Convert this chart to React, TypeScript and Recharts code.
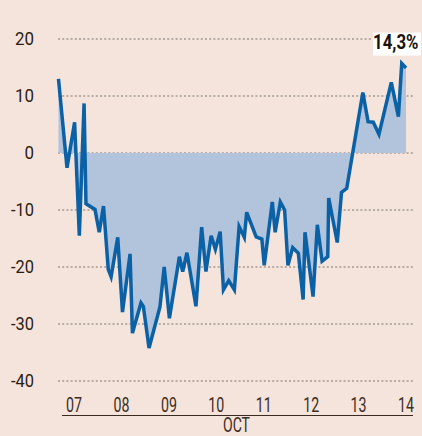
import { ComposedChart, Area, Line, XAxis, YAxis, CartesianGrid, ReferenceDot } from "recharts"

// position in days (07 = 7 Oct)
const days = [
  6.67, 6.85, 7.01, 7.11, 7.21, 7.25, 7.44, 7.53, 7.62, 7.72, 7.78, 7.92, 8.02, 8.18, 8.23, 8.41,
  8.46, 8.58, 8.81, 8.9, 9.01, 9.22, 9.29, 9.38, 9.57, 9.69, 9.78, 9.89, 9.98, 10.08, 10.15, 10.26,
  10.38, 10.48, 10.59, 10.64, 10.84, 10.96, 11.01, 11.18, 11.24, 11.35, 11.44, 11.51, 11.61, 11.73,
  11.83, 11.87, 12.04, 12.13, 12.23, 12.35, 12.37, 12.55, 12.64, 12.75, 13.09, 13.2, 13.31, 13.43,
  13.69, 13.84, 13.91, 14.0,
]

// % change
const changes = [
  13.0, -2.6, 5.4, -14.5, 8.7, -8.9, -9.9, -13.9, -9.3, -20.4, -21.7, -14.8, -27.9, -17.7, -31.6, -26.3,
  -26.9, -34.2, -27.0, -20.0, -29.0, -18.2, -20.8, -17.5, -26.9, -13.0, -20.8, -14.5, -16.9, -13.8, -24.0, -22.4,
  -24.0, -12.9, -14.8, -10.4, -14.7, -15.1, -19.7, -8.6, -13.9, -8.6, -10.0, -19.7, -16.6, -17.6,
  -25.7, -13.9, -25.2, -12.6, -19.0, -18.2, -7.9, -15.7, -6.9, -6.2, 10.6, 5.5, 5.4, 3.3,
  12.4, 6.4, 15.7, 14.9,
]

const dayTicks = [7, 8, 9, 10, 11, 12, 13, 14]
const valueTicks = [-40, -30, -20, -10, 0, 10, 20]
const monthLabel = "OCT"
const lastLabel = "14,3%"

const data = days.map((day, i) => ({ day, value: changes[i] }))
const last = data[data.length - 1]

const font = "Roboto, 'Liberation Sans', sans-serif"

// the original uses a condensed face, so squeeze the glyphs with textLength
function DayTick(props: any) {
  const { x, y, payload } = props
  const txt = String(payload.value).padStart(2, "0")
  return (
    <text
      x={x}
      y={y}
      dy="0.71em"
      textAnchor="middle"
      fontFamily={font}
      fontSize={21}
      fill="#3d2d23"
      textLength={txt.length * 8}
      lengthAdjust="spacingAndGlyphs"
    >
      {txt}
    </text>
  )
}

function ValueTick(props: any) {
  const { x, y, payload } = props
  const txt = String(payload.value)
  const digits = txt.replace("-", "").length
  return (
    <text
      x={x}
      y={y}
      dy="0.355em"
      textAnchor="end"
      fontFamily={font}
      fontSize={18}
      fill="#2b1d15"
      textLength={digits * 9.5 + (txt.startsWith("-") ? 4 : 0)}
      lengthAdjust="spacingAndGlyphs"
    >
      {txt}
    </text>
  )
}

function Badge(props: any) {
  const { x, y } = props.viewBox
  return (
    <g>
      <rect x={x - 33} y={y - 35.5} width={48} height={23} fill="#ffffff" />
      <text
        transform={`translate(${x + 12.5},${y - 19.5}) scale(0.8,1)`}
        textAnchor="end"
        fontFamily={font}
        fontSize={21}
        fontWeight={700}
        fill="#1a120d"
      >
        {lastLabel}
      </text>
    </g>
  )
}

function MonthLabel(props: any) {
  const { x, y, width, height } = props.viewBox
  return (
    <text
      x={x + width / 2}
      y={y + height - 4}
      textAnchor="middle"
      fontFamily={font}
      fontSize={20}
      fill="#3d2d23"
      textLength={27}
      lengthAdjust="spacingAndGlyphs"
    >
      {monthLabel}
    </text>
  )
}

export default function App() {
  return (
    <div
      style={{
        position: "fixed",
        left: 0,
        top: 0,
        width: 422,
        height: 436,
        background: "#f5e4db",
        overflow: "hidden",
        fontFamily: font,
      }}
    >
      <ComposedChart width={422} height={436} data={data} margin={{ top: 39, right: 7, bottom: 0, left: 0 }}>
        <CartesianGrid vertical={false} stroke="#a49b95" strokeWidth={1.5} strokeDasharray="2 2.2" />
        <XAxis
          dataKey="day"
          type="number"
          domain={[6.66, 14.19]}
          ticks={dayTicks}
          axisLine={false}
          tickLine={false}
          tickSize={0}
          tickMargin={16}
          height={55}
          tick={DayTick}
          label={MonthLabel}
        />
        <YAxis
          type="number"
          domain={[-40, 20]}
          ticks={valueTicks}
          axisLine={false}
          tickLine={false}
          tickSize={0}
          tickMargin={24}
          width={58}
          tick={ValueTick}
        />
        <Area
          dataKey="value"
          type="linear"
          baseValue={0}
          stroke="none"
          fill="#b2c3dc"
          fillOpacity={1}
          isAnimationActive={false}
        />
        <Line
          dataKey="value"
          type="linear"
          stroke="#0b61a5"
          strokeWidth={3.5}
          dot={false}
          activeDot={false}
          isAnimationActive={false}
        />
        <ReferenceDot x={last.day} y={last.value} r={0} fill="none" stroke="none" ifOverflow="visible" label={Badge} />
      </ComposedChart>
      <div
        style={{ position: "absolute", left: 62, top: 414.5, width: 351, height: 1.5, background: "#3b2a20" }}
      />
    </div>
  )
}
